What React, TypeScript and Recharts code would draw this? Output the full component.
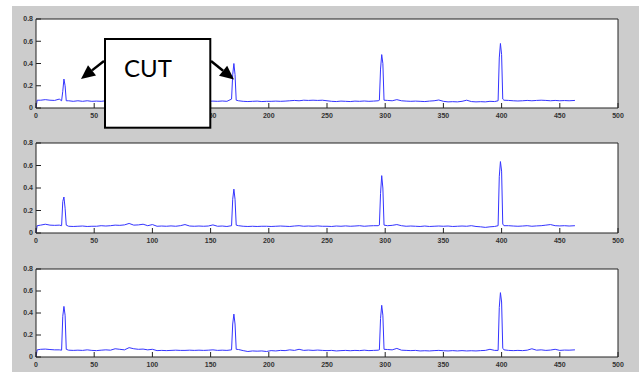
import { LineChart, Line, XAxis, YAxis, CartesianGrid } from 'recharts';

// sample positions (denser around the four peaks)
const xs = [
  0, 1, 4, 8, 12, 16, 20, 22,
  23, 24, 25, 26,
  28, 32, 36, 40, 44, 48, 52, 56, 60, 64, 68, 72, 76, 80, 84, 88, 92, 96, 100, 104, 108, 112,
  116, 120, 124, 128, 132, 136, 140, 144, 148, 152, 156, 160, 164, 168,
  169, 170, 171, 172,
  174, 178, 182, 186, 190, 194, 198, 202, 206, 210, 214, 218, 222, 226, 230, 234, 238, 242,
  246, 250, 254, 258, 262, 266, 270, 274, 278, 282, 286, 290, 294,
  295, 296, 297, 298, 299,
  302, 306, 310, 314, 318, 322, 326, 330, 334, 338, 342, 346, 350, 354, 358, 362, 366, 370,
  374, 378, 382, 386, 390, 394,
  397, 398, 399, 400, 401, 402,
  406, 410, 414, 418, 422, 426, 430, 434, 438, 442, 446, 450, 454, 458, 463,
];

const signalTop = [
  0, 0.07, 0.07, 0.075, 0.07, 0.068, 0.08, 0.065,
  0.15, 0.26, 0.2, 0.065,
  0.065, 0.06, 0.065, 0.06, 0.065, 0.06, 0.062, 0.06, 0.065, 0.07, 0.068, 0.07, 0.072, 0.08, 0.07, 0.068,
  0.075, 0.07, 0.065, 0.06, 0.062, 0.06, 0.065, 0.06, 0.062, 0.07, 0.06, 0.062, 0.06, 0.063, 0.06, 0.062,
  0.06, 0.063, 0.06, 0.08,
  0.3, 0.4, 0.3, 0.07,
  0.065, 0.06, 0.058, 0.06, 0.062, 0.058, 0.06, 0.06, 0.062, 0.06, 0.062, 0.065, 0.068, 0.065, 0.07, 0.068,
  0.07, 0.068, 0.07, 0.065, 0.06, 0.058, 0.062, 0.06, 0.058, 0.062, 0.06, 0.063, 0.06, 0.062, 0.065,
  0.07, 0.35, 0.48, 0.4, 0.07,
  0.068, 0.065, 0.075, 0.065, 0.062, 0.06, 0.062, 0.06, 0.058, 0.062, 0.065, 0.072, 0.06, 0.055, 0.057,
  0.055, 0.06, 0.07, 0.058, 0.055, 0.057, 0.055, 0.06, 0.058,
  0.065, 0.45, 0.58, 0.48, 0.08, 0.07,
  0.068, 0.065, 0.063, 0.065, 0.068, 0.065, 0.068, 0.07, 0.068, 0.065, 0.068, 0.065, 0.067, 0.065, 0.068,
];

const signalMid = [
  0, 0.065, 0.07, 0.078, 0.07, 0.068, 0.07, 0.065,
  0.28, 0.32, 0.22, 0.07,
  0.06, 0.058, 0.06, 0.062, 0.058, 0.06, 0.06, 0.065, 0.062, 0.065, 0.07, 0.068, 0.072, 0.085, 0.07, 0.072,
  0.078, 0.065, 0.075, 0.06, 0.062, 0.06, 0.063, 0.06, 0.065, 0.075, 0.062, 0.06, 0.062, 0.06, 0.062, 0.072,
  0.06, 0.062, 0.058, 0.065,
  0.3, 0.39, 0.3, 0.07,
  0.065, 0.06, 0.058, 0.06, 0.058, 0.06, 0.06, 0.058, 0.06, 0.062, 0.06, 0.058, 0.062, 0.065, 0.06, 0.062,
  0.06, 0.063, 0.06, 0.06, 0.058, 0.062, 0.06, 0.063, 0.06, 0.062, 0.065, 0.06, 0.063, 0.065, 0.065,
  0.07, 0.35, 0.51, 0.4, 0.07,
  0.065, 0.068, 0.075, 0.065, 0.06, 0.062, 0.06, 0.058, 0.062, 0.058, 0.06, 0.062, 0.06, 0.062, 0.058,
  0.06, 0.062, 0.06, 0.065, 0.058, 0.055, 0.05, 0.055, 0.058,
  0.065, 0.5, 0.635, 0.55, 0.08, 0.065,
  0.065, 0.062, 0.06, 0.062, 0.065, 0.06, 0.063, 0.065, 0.07, 0.075, 0.065, 0.063, 0.065, 0.062, 0.065,
];

const signalBottom = [
  0, 0.065, 0.07, 0.072, 0.068, 0.065, 0.065, 0.062,
  0.37, 0.46, 0.38, 0.07,
  0.062, 0.06, 0.062, 0.06, 0.065, 0.06, 0.058, 0.062, 0.065, 0.062, 0.075, 0.07, 0.065, 0.085, 0.075, 0.07,
  0.072, 0.065, 0.07, 0.058, 0.06, 0.058, 0.06, 0.062, 0.06, 0.06, 0.062, 0.06, 0.062, 0.06, 0.062, 0.065,
  0.06, 0.062, 0.06, 0.065,
  0.3, 0.39, 0.3, 0.07,
  0.068, 0.058, 0.05, 0.055, 0.053, 0.055, 0.05, 0.058, 0.055, 0.06, 0.058, 0.065, 0.06, 0.07, 0.06, 0.063,
  0.06, 0.063, 0.06, 0.058, 0.06, 0.055, 0.058, 0.06, 0.057, 0.06, 0.058, 0.062, 0.058, 0.06, 0.062,
  0.065, 0.35, 0.47, 0.38, 0.07,
  0.068, 0.065, 0.078, 0.062, 0.06, 0.058, 0.06, 0.055, 0.057, 0.055, 0.058, 0.06, 0.057, 0.055, 0.058,
  0.055, 0.058, 0.055, 0.057, 0.055, 0.058, 0.06, 0.07, 0.06,
  0.06, 0.45, 0.585, 0.5, 0.08, 0.065,
  0.06, 0.058, 0.06, 0.058, 0.062, 0.075, 0.062, 0.065, 0.06, 0.063, 0.07, 0.06, 0.063, 0.062, 0.065,
];

const xTicks = [0, 50, 100, 150, 200, 250, 300, 350, 400, 450, 500];
const yTicks = [0, 0.2, 0.4, 0.6, 0.8];

const axisColor = '#222';
const tickFont = { fontSize: 7, fill: '#333', fontWeight: 'bold', fontFamily: 'Liberation Sans, Arial, sans-serif' };

function Subplot({ values, top, height, marginTop, marginBottom }: {
  values: number[]; top: number; height: number; marginTop: number; marginBottom: number;
}) {
  const data = xs.map((x, i) => ({ x, y: values[i] }));
  return (
    <div style={{ position: 'absolute', left: 0, top }}>
      <LineChart width={639} height={height} data={data}
        margin={{ top: marginTop, right: 20, bottom: marginBottom, left: 6 }}>
        <CartesianGrid fill="#fff" stroke="none" />
        <XAxis dataKey="x" type="number" domain={[0, 500]} ticks={xTicks} interval={0}
          height={12} tickSize={-5} tickMargin={10} stroke={axisColor} tick={tickFont} />
        <XAxis xAxisId="top" orientation="top" dataKey="x" type="number" domain={[0, 500]}
          ticks={xTicks} interval={0} height={1} tickSize={-5} tick={false} stroke={axisColor} />
        <YAxis type="number" domain={[0, 0.8]} ticks={yTicks} interval={0}
          width={30} tickSize={-5} tickMargin={8} stroke={axisColor} tick={tickFont} />
        <YAxis yAxisId="right" orientation="right" type="number" domain={[0, 0.8]} ticks={yTicks}
          interval={0} width={1} tickSize={-5} tick={false} stroke={axisColor} />
        <Line type="linear" dataKey="y" xAxisId="top" yAxisId="right" stroke="none" dot={false}
          isAnimationActive={false} />
        <Line type="linear" dataKey="y" stroke="#3434ff" strokeWidth={1} dot={false}
          isAnimationActive={false} />
      </LineChart>
    </div>
  );
}

// arrow with a filled head, drawn from start to tip
function Arrow({ x1, y1, x2, y2 }: { x1: number; y1: number; x2: number; y2: number }) {
  const len = Math.hypot(x1 - x2, y1 - y2);
  const ux = (x1 - x2) / len, uy = (y1 - y2) / len;
  const bx = x2 + ux * 14, by = y2 + uy * 14;
  const px = -uy * 6.5, py = ux * 6.5;
  return (
    <g>
      <line x1={x1} y1={y1} x2={bx} y2={by} stroke="#000" strokeWidth={2.5} />
      <polygon points={`${x2},${y2} ${bx + px},${by + py} ${bx - px},${by - py}`} fill="#000" />
    </g>
  );
}

export default function App() {
  return (
    <div style={{ position: 'absolute', left: 0, top: 0, width: 639, height: 372, background: '#fff', overflow: 'hidden' }}>
      <div style={{ position: 'absolute', left: 12, top: 6, width: 627, height: 366, background: '#cccccc' }} />
      <Subplot values={signalTop} top={0} height={125} marginTop={18} marginBottom={5} />
      <Subplot values={signalMid} top={125} height={125} marginTop={17} marginBottom={5} />
      <Subplot values={signalBottom} top={250} height={122} marginTop={18} marginBottom={3} />
      <svg width={639} height={372} style={{ position: 'absolute', left: 0, top: 0 }}>
        <Arrow x1={104} y1={61} x2={81} y2={79} />
        <Arrow x1={211} y1={61} x2={234} y2={79.5} />
        <rect x={105} y={39} width={105.3} height={88.7} fill="#fff" stroke="#000" strokeWidth={2} />
        <text x={148} y={77} textAnchor="middle" fontSize={24} fontFamily="Lato, 'Open Sans', sans-serif" fill="#000">CUT</text>
      </svg>
    </div>
  );
}
